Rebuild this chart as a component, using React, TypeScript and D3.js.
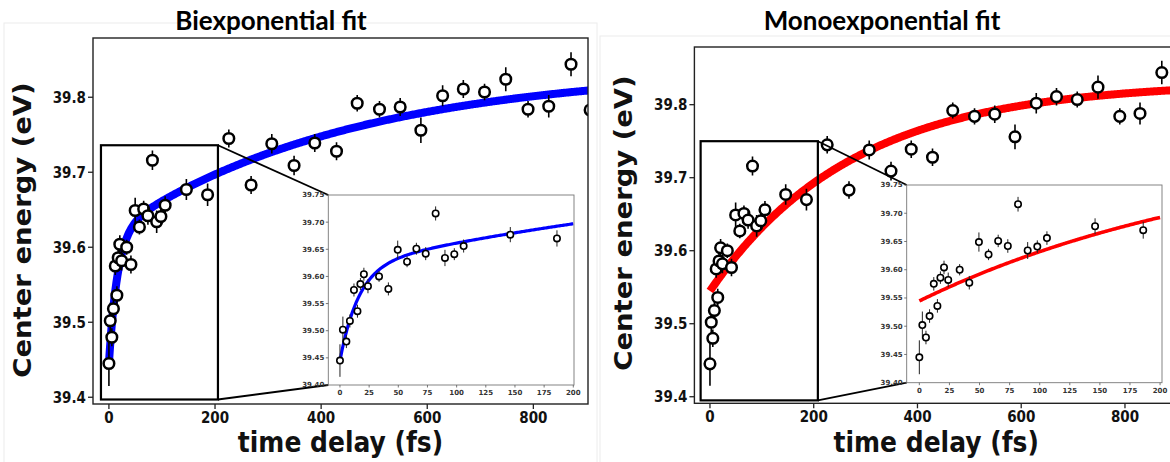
import React from 'react';
import * as d3 from 'd3';

// Measured peak centre energy versus pump-probe delay
const delays = [
  0, 2.5, 5.5, 8.5, 12, 15, 17.5, 20.5, 24, 33.5, 41.5, 49.5, 57.5, 65.5, 73.5, 82, 90, 98, 106, 146, 186,
  226, 268, 307, 349, 388, 429, 468, 510, 549, 588, 629, 668, 708, 748, 790, 829, 871, 907,
];
const energies = [
  39.445, 39.502, 39.48, 39.518, 39.575, 39.536, 39.586, 39.604, 39.582, 39.6, 39.577, 39.649, 39.627, 39.651,
  39.642, 39.716, 39.634, 39.641, 39.656, 39.677, 39.67,
  39.745, 39.683, 39.738, 39.709, 39.739, 39.728, 39.792, 39.784, 39.787, 39.756, 39.802, 39.811, 39.807,
  39.824, 39.784, 39.788, 39.844, 39.783,
];
const errors = [
  0.03, 0.024, 0.012, 0.012, 0.012, 0.012, 0.011, 0.012, 0.013, 0.01, 0.012, 0.017, 0.01, 0.011, 0.012, 0.013,
  0.015, 0.011, 0.012, 0.014, 0.015,
  0.012, 0.012, 0.013, 0.013, 0.012, 0.012, 0.011, 0.011, 0.012, 0.017, 0.014, 0.012, 0.011, 0.016, 0.011,
  0.015, 0.016, 0.012,
];

// Fitted model parameters
const biexpParams = { y0: 39.445, a1: 0.1727, tau1: 16, a2: 0.221, tau2: 450 };
const monoParams = { c: 39.831, b: 0.2863, tau: 275 };

// Axis ticks
const mainXTicks = [0, 200, 400, 600, 800];
const mainYTicks = [39.4, 39.5, 39.6, 39.7, 39.8];
const insetXTicks = [0, 25, 50, 75, 100, 125, 150, 175, 200];
const insetYTicks = [39.4, 39.45, 39.5, 39.55, 39.6, 39.65, 39.7, 39.75];

const mainXDomain = [-30, 903];
const mainYDomain = [39.391, 39.879];

const biexp = (t: number) =>
  biexpParams.y0 +
  biexpParams.a1 * (1 - Math.exp(-t / biexpParams.tau1)) +
  biexpParams.a2 * (1 - Math.exp(-t / biexpParams.tau2));
const mono = (t: number) => monoParams.c - monoParams.b * Math.exp(-t / monoParams.tau);

const points = delays.map((t, i) => ({ t, v: energies[i], e: errors[i] }));

const TICK_FONT = '"DejaVu Sans", sans-serif';
const STRETCH = 1.12; // tall, slightly condensed lettering of the axes

type Box = { left: number; right: number; top: number; bottom: number };

type PanelProps = {
  id: string;
  title: string;
  titleX: number;
  color: string;
  fit: (t: number) => number;
  frame: Box;
  yLabelCenter: number;
  zoomBox: { t0: number; t1: number; v0: number; v1: number };
  inset: Box & { tDomain: number[] };
  insetCurveWidth: number;
  border: Box;
};

function TallText(props: {
  x: number;
  y: number;
  size: number;
  anchor: 'start' | 'middle' | 'end';
  rotate?: number;
  dy?: string;
  children: React.ReactNode;
}) {
  const rot = props.rotate ? ` rotate(${props.rotate})` : '';
  return (
    <g transform={`translate(${props.x},${props.y}) scale(1,${STRETCH})${rot}`}>
      <text
        x={0}
        y={0}
        dy={props.dy}
        textAnchor={props.anchor}
        fontFamily={TICK_FONT}
        fontWeight="bold"
        fontSize={props.size}
        fill="#111"
      >
        {props.children}
      </text>
    </g>
  );
}

function Panel(p: PanelProps) {
  const x = d3.scaleLinear().domain(mainXDomain).range([p.frame.left, p.frame.right]);
  const y = d3.scaleLinear().domain(mainYDomain).range([p.frame.bottom, p.frame.top]);
  const ix = d3.scaleLinear().domain(p.inset.tDomain).range([p.inset.left, p.inset.right]);
  const iy = d3.scaleLinear().domain([39.4, 39.75]).range([p.inset.bottom, p.inset.top]);

  const fitTimes = d3.range(0, mainXDomain[1] + 2, 2);
  const mainLine = d3
    .line<number>()
    .x((t) => x(t))
    .y((t) => y(p.fit(t)))(fitTimes) as string;
  const insetTimes = d3.range(0, 201, 1);
  const insetLine = d3
    .line<number>()
    .x((t) => ix(t))
    .y((t) => iy(p.fit(t)))(insetTimes) as string;

  const zx0 = x(p.zoomBox.t0);
  const zx1 = x(p.zoomBox.t1);
  const zy0 = y(p.zoomBox.v1);
  const zy1 = y(p.zoomBox.v0);

  const insetPts = points.filter((d) => d.t <= 200);
  const fw = p.frame.right - p.frame.left;
  const fh = p.frame.bottom - p.frame.top;
  const iw = p.inset.right - p.inset.left;
  const ih = p.inset.bottom - p.inset.top;

  return (
    <g>
      <rect
        x={p.border.left}
        y={p.border.top}
        width={p.border.right - p.border.left}
        height={p.border.bottom - p.border.top}
        fill="none"
        stroke="#ececec"
        strokeWidth={1}
      />
      <defs>
        <clipPath id={`${p.id}-main`}>
          <rect x={p.frame.left} y={p.frame.top} width={fw} height={fh} />
        </clipPath>
        <clipPath id={`${p.id}-inset`}>
          <rect x={p.inset.left} y={p.inset.top} width={iw} height={ih} />
        </clipPath>
      </defs>

      <text
        x={p.titleX}
        y={30}
        textAnchor="middle"
        fontFamily="Lato, 'Open Sans', sans-serif"
        fontWeight="bold"
        fontSize={26}
        fill="#000"
      >
        {p.title}
      </text>

      {/* main axes contents */}
      <g clipPath={`url(#${p.id}-main)`}>
        <path d={mainLine} fill="none" stroke={p.color} strokeWidth={8} />
        {points.map((d, i) => (
          <g key={i}>
            <line x1={x(d.t)} x2={x(d.t)} y1={y(d.v - d.e)} y2={y(d.v + d.e)} stroke="#000" strokeWidth={1.6} />
            <circle cx={x(d.t)} cy={y(d.v)} r={5.3} fill="#fff" stroke="#000" strokeWidth={2.5} />
          </g>
        ))}
      </g>

      {/* frame */}
      <rect x={p.frame.left} y={p.frame.top} width={fw} height={fh} fill="none" stroke="#222" strokeWidth={1.4} />
      {mainYTicks.map((v) => (
        <g key={v}>
          <line x1={p.frame.left - 5} x2={p.frame.left} y1={y(v)} y2={y(v)} stroke="#222" strokeWidth={1.3} />
          <TallText x={p.frame.left - 7} y={y(v)} dy="0.36em" anchor="end" size={13.5}>
            {v.toFixed(1)}
          </TallText>
        </g>
      ))}
      {mainXTicks.map((t) => (
        <g key={t}>
          <line x1={x(t)} x2={x(t)} y1={p.frame.bottom} y2={p.frame.bottom + 5} stroke="#222" strokeWidth={1.3} />
          <TallText x={x(t)} y={p.frame.bottom + 19} anchor="middle" size={13.5}>
            {t}
          </TallText>
        </g>
      ))}
      <TallText x={(p.frame.left + Math.min(p.frame.right, 1178)) / 2} y={452} anchor="middle" size={25}>
        time delay (fs)
      </TallText>
      <TallText x={p.frame.left - 62} y={p.yLabelCenter} anchor="middle" size={24.5} rotate={-90}>
        Center energy (eV)
      </TallText>

      {/* zoom window and connectors */}
      <rect x={zx0} y={zy0} width={zx1 - zx0} height={zy1 - zy0} fill="none" stroke="#000" strokeWidth={2.2} />
      <line x1={zx1} y1={zy0} x2={p.inset.left} y2={p.inset.top} stroke="#000" strokeWidth={1.8} />
      <line x1={zx1} y1={zy1} x2={p.inset.left} y2={p.inset.bottom} stroke="#000" strokeWidth={1.8} />

      {/* inset */}
      <rect x={p.inset.left} y={p.inset.top} width={iw} height={ih} fill="#fff" />
      <g clipPath={`url(#${p.id}-inset)`}>
        <path d={insetLine} fill="none" stroke={p.color} strokeWidth={p.insetCurveWidth} />
        {insetPts.map((d, i) => (
          <g key={i}>
            <line x1={ix(d.t)} x2={ix(d.t)} y1={iy(d.v - d.e)} y2={iy(d.v + d.e)} stroke="#222" strokeWidth={1} />
            <circle cx={ix(d.t)} cy={iy(d.v)} r={3.2} fill="#fff" stroke="#000" strokeWidth={1.6} />
          </g>
        ))}
      </g>
      <rect x={p.inset.left} y={p.inset.top} width={iw} height={ih} fill="none" stroke="#777" strokeWidth={0.9} />
      {insetYTicks.map((v) => (
        <g key={v}>
          <line x1={p.inset.left - 2.5} x2={p.inset.left} y1={iy(v)} y2={iy(v)} stroke="#555" strokeWidth={0.8} />
          <text
            x={p.inset.left - 4}
            y={iy(v)}
            dy="0.35em"
            textAnchor="end"
            fontFamily={TICK_FONT}
            fontWeight="bold"
            fontSize={7}
            fill="#333"
          >
            {v.toFixed(2)}
          </text>
        </g>
      ))}
      {insetXTicks.map((t) => (
        <g key={t}>
          <line x1={ix(t)} x2={ix(t)} y1={p.inset.bottom} y2={p.inset.bottom + 2.5} stroke="#555" strokeWidth={0.8} />
          <text
            x={ix(t)}
            y={p.inset.bottom + 10}
            textAnchor="middle"
            fontFamily={TICK_FONT}
            fontWeight="bold"
            fontSize={7}
            fill="#333"
          >
            {t}
          </text>
        </g>
      ))}
    </g>
  );
}

export default function App() {
  return (
    <svg
      width={1170}
      height={462}
      viewBox="0 0 1170 462"
      style={{ position: 'absolute', left: 0, top: 0, background: '#fff' }}
    >
      <rect x={0} y={0} width={1170} height={462} fill="#fff" />
      <Panel
        id="bi"
        title="Biexponential fit"
        titleX={271}
        color="#0000ff"
        fit={biexp}
        frame={{ left: 93, right: 588, top: 38, bottom: 404 }}
        yLabelCenter={230}
        zoomBox={{ t0: -15, t1: 205.5, v0: 39.397, v1: 39.736 }}
        inset={{ left: 328.3, right: 574, top: 195, bottom: 385, tDomain: [-10, 200.6] }}
        insetCurveWidth={3.2}
        border={{ left: 4, right: 597, top: 23, bottom: 470 }}
      />
      <Panel
        id="mono"
        title="Monoexponential fit"
        titleX={882}
        color="#ff0000"
        fit={mono}
        frame={{ left: 694.4, right: 1178.4, top: 47, bottom: 403.3 }}
        yLabelCenter={223}
        zoomBox={{ t0: -18, t1: 208, v0: 39.395, v1: 39.75 }}
        inset={{ left: 906.7, right: 1162, top: 185, bottom: 382.7, tDomain: [-10.5, 201.6] }}
        insetCurveWidth={3.6}
        border={{ left: 600, right: 1180, top: 36, bottom: 470 }}
      />
    </svg>
  );
}
